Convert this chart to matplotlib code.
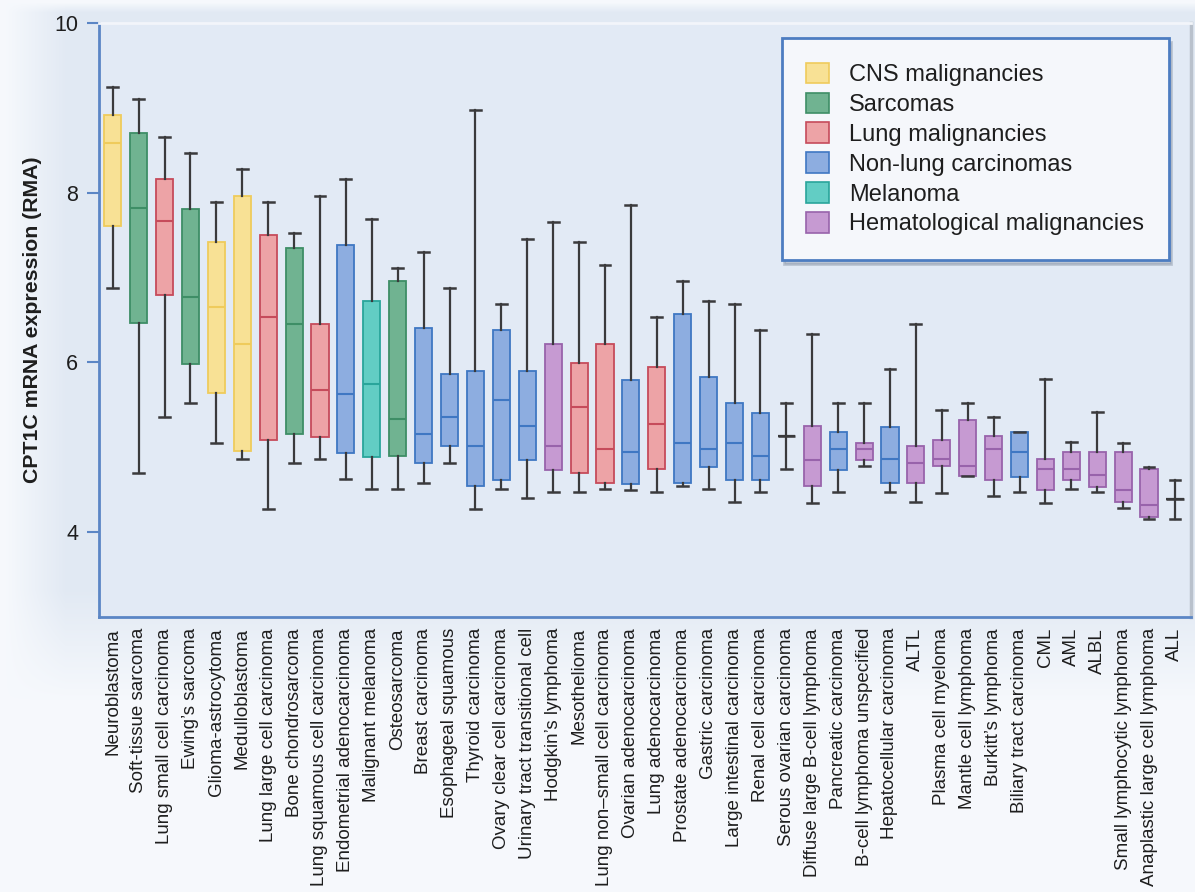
import numpy as np
import matplotlib
matplotlib.use("Agg")
import matplotlib.pyplot as plt
from matplotlib.patches import Patch

plt.rcParams['font.family'] = ['Liberation Sans', 'DejaVu Sans']

# ---- data -------------------------------------------------------------
categories = [
    "Neuroblastoma", "Soft-tissue sarcoma", "Lung small cell carcinoma",
    "Ewing’s sarcoma", "Glioma-astrocytoma", "Medulloblastoma",
    "Lung large cell carcinoma", "Bone chondrosarcoma",
    "Lung squamous cell carcinoma", "Endometrial adenocarcinoma",
    "Malignant melanoma", "Osteosarcoma", "Breast carcinoma",
    "Esophageal squamous", "Thyroid carcinoma", "Ovary clear cell carcinoma",
    "Urinary tract transitional cell", "Hodgkin’s lymphoma", "Mesothelioma",
    "Lung non–small cell carcinoma", "Ovarian adenocarcinoma",
    "Lung adenocarcinoma", "Prostate adenocarcinoma", "Gastric carcinoma",
    "Large intestinal carcinoma", "Renal cell carcinoma",
    "Serous ovarian carcinoma", "Diffuse large B-cell lymphoma",
    "Pancreatic carcinoma", "B-cell lymphoma unspecified",
    "Hepatocellular carcinoma", "ALTL", "Plasma cell myeloma",
    "Mantle cell lymphoma", "Burkitt’s lymphoma", "Biliary tract carcinoma",
    "CML", "AML", "ALBL", "Small lymphocytic lymphoma",
    "Anaplastic large cell lymphoma", "ALL",
]

group_names = ["CNS malignancies", "Sarcomas", "Lung malignancies",
               "Non-lung carcinomas", "Melanoma", "Hematological malignancies"]

# group index of every category (into group_names)
groups = [0, 1, 2, 1, 0, 0, 2, 1, 2, 3, 4, 1, 3, 3, 3, 3, 3, 5, 2, 2, 3,
          2, 3, 3, 3, 3, 3, 5, 3, 5, 3, 5, 5, 5, 5, 3, 5, 5, 5, 5, 5, 5]

whisker_high = [9.25, 9.10, 8.66, 8.47, 7.89, 8.28, 7.89, 7.53, 7.96, 8.16,
                7.69, 7.11, 7.30, 6.88, 8.98, 6.69, 7.46, 7.66, 7.42, 7.15,
                7.85, 6.53, 6.96, 6.72, 6.69, 6.38, 5.52, 6.33, 5.52, 5.52,
                5.92, 6.45, 5.44, 5.52, 5.36, 5.18, 5.80, 5.06, 5.41, 5.05,
                4.77, 4.62]
upper_quartile = [8.91, 8.70, 8.16, 7.81, 7.42, 7.96, 7.50, 7.35, 6.45, 7.38,
                  6.72, 6.96, 6.41, 5.86, 5.90, 6.38, 5.90, 6.22, 5.99, 6.22,
                  5.79, 5.95, 6.57, 5.83, 5.52, 5.40, 5.13, 5.25, 5.18, 5.05,
                  5.24, 5.01, 5.09, 5.32, 5.13, 5.18, 4.86, 4.94, 4.94, 4.94,
                  4.75, 4.39]
median = [8.59, 7.82, 7.67, 6.77, 6.65, 6.22, 6.53, 6.45, 5.67, 5.63,
          5.74, 5.33, 5.16, 5.36, 5.01, 5.56, 5.25, 5.01, 5.48, 4.98,
          4.94, 5.28, 5.05, 4.98, 5.05, 4.90, 5.13, 4.85, 4.98, 4.98,
          4.86, 4.82, 4.86, 4.78, 4.98, 4.94, 4.74, 4.74, 4.67, 4.50,
          4.32, 4.39]
lower_quartile = [7.61, 6.46, 6.80, 5.98, 5.64, 4.96, 5.09, 5.16, 5.12, 4.93,
                  4.89, 4.90, 4.81, 5.01, 4.54, 4.61, 4.85, 4.73, 4.70, 4.58,
                  4.57, 4.74, 4.58, 4.77, 4.61, 4.61, 5.13, 4.54, 4.73, 4.85,
                  4.58, 4.58, 4.78, 4.66, 4.61, 4.65, 4.50, 4.61, 4.53, 4.35,
                  4.18, 4.39]
whisker_low = [6.88, 4.70, 5.36, 5.52, 5.05, 4.86, 4.27, 4.81, 4.86, 4.63,
               4.51, 4.51, 4.58, 4.82, 4.27, 4.51, 4.40, 4.47, 4.47, 4.51,
               4.50, 4.47, 4.54, 4.51, 4.36, 4.47, 4.75, 4.34, 4.47, 4.78,
               4.47, 4.35, 4.46, 4.66, 4.43, 4.47, 4.34, 4.51, 4.47, 4.29,
               4.15, 4.15]

# categories drawn only as a range with a median bar (no box)
boxless = ["Serous ovarian carcinoma", "ALL"]

y_ticks = [4, 6, 8, 10]

# ---- styling ----------------------------------------------------------
fill_colors = ["#F8E195", "#70B391", "#EDA3A6", "#8DADE0", "#62CDC4", "#C69AD2"]
edge_colors = ["#EFCB5C", "#3E8E66", "#C64B5B", "#3F77C3", "#29A59B", "#9863AB"]
whisker_color = "#3A3A3C"
spine_blue = "#5B86C5"

W, H = 1195, 892
fig = plt.figure(figsize=(W / 100, H / 100), dpi=100)

# soft backdrop behind the chart panel
bg = fig.add_axes([0, 0, 1, 1], zorder=-10)
bg.set_axis_off()
yy, xx = np.mgrid[0:H, 0:W]
light = np.array([0.965, 0.975, 0.99])
blue = np.array([0.885, 0.915, 0.955])
t_left = np.clip((xx - 5) / 60.0, 0, 1)
t_top = np.clip((yy - 2) / 10.0, 0, 1)
t_bottom = np.clip((700 - yy) / 110.0, 0, 1)
t = (t_left * t_top * t_bottom)[..., None]
img = light * (1 - t) + blue * t
bg.imshow(img, extent=[0, 1, 0, 1], aspect="auto", interpolation="bilinear")

ax_left, ax_right = 99 / W, 1190.5 / W
ax_bottom, ax_top = 1 - 617 / H, 1 - 23 / H
ax = fig.add_axes([ax_left, ax_bottom, ax_right - ax_left, ax_top - ax_bottom])
ax.set_facecolor("#E2EAF5")

positions = np.arange(len(categories))
stats = []
for i, name in enumerate(categories):
    stats.append(dict(label=name, med=median[i], q1=lower_quartile[i],
                      q3=upper_quartile[i], whislo=whisker_low[i],
                      whishi=whisker_high[i], fliers=[]))

bp = ax.bxp(stats, positions=positions, widths=0.66, capwidths=0.42,
            patch_artist=True, showfliers=False,
            whiskerprops=dict(color=whisker_color, linewidth=1.6),
            capprops=dict(color=whisker_color, linewidth=1.8),
            boxprops=dict(linewidth=1.3),
            medianprops=dict(linewidth=1.5))

for i, name in enumerate(categories):
    g = groups[i]
    box = bp["boxes"][i]
    med_line = bp["medians"][i]
    if name in boxless:
        box.set_facecolor("none")
        box.set_edgecolor(whisker_color)
        box.set_linewidth(1.6)
        med_line.set_color(whisker_color)
        med_line.set_linewidth(1.8)
    else:
        box.set_facecolor(fill_colors[g])
        box.set_edgecolor(edge_colors[g])
        med_line.set_color(edge_colors[g])

ax.set_xlim(-0.53, len(categories) - 0.4)
ax.set_ylim(3, 10)
ax.set_yticks(y_ticks)
ax.set_yticklabels([str(v) for v in y_ticks], fontsize=15.5)
ax.tick_params(axis="y", length=9, width=1.5, color=spine_blue, pad=6,
               labelcolor="#1E1E1E")
ax.set_xticks(positions)
ax.set_xticklabels(categories, rotation=90, fontsize=13.5, color="#1E1E1E")
ax.tick_params(axis="x", length=0, pad=8)

ax.set_ylabel("CPT1C mRNA expression (RMA)", fontsize=15.3, fontweight="bold",
              color="#1E1E1E")
ax.yaxis.set_label_coords(-0.052, 0.5)

for side in ("left", "bottom"):
    ax.spines[side].set_color(spine_blue)
    ax.spines[side].set_linewidth(2.0)
ax.spines["top"].set_color("#F2F5FA")
ax.spines["top"].set_linewidth(2.0)
ax.spines["right"].set_color("#B9C1CC")
ax.spines["right"].set_linewidth(2.5)

handles = [Patch(facecolor=fill_colors[k], edgecolor=edge_colors[k],
                 linewidth=1.2, label=group_names[k])
           for k in range(len(group_names))]
leg = ax.legend(handles=handles, loc="upper right",
                bbox_to_anchor=(0.980, 0.975), fontsize=17,
                frameon=True, fancybox=False,
                shadow={"ox": 2, "oy": -3, "color": "#8A96A8", "alpha": 0.45},
                handlelength=0.95, handleheight=0.95, handletextpad=0.85,
                labelspacing=0.28, borderpad=1.05, borderaxespad=0)
frame = leg.get_frame()
frame.set_facecolor("#F5F7FB")
frame.set_edgecolor("#4D7DC1")
frame.set_linewidth(2.0)
frame.set_alpha(1)
for txt in leg.get_texts():
    txt.set_color("#1E1E1E")

fig.savefig("out.png", dpi=100)
